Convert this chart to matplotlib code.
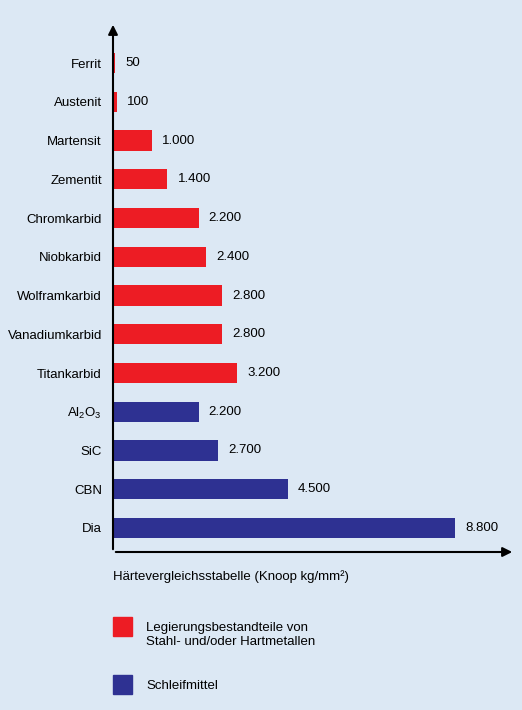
import matplotlib
matplotlib.use("Agg")
import matplotlib.pyplot as plt
from matplotlib.patches import Rectangle

categories = ["Ferrit", "Austenit", "Martensit", "Zementit", "Chromkarbid", "Niobkarbid",
              "Wolframkarbid", "Vanadiumkarbid", "Titankarbid", r"Al$_2$O$_3$", "SiC", "CBN", "Dia"]
values = [50, 100, 1000, 1400, 2200, 2400, 2800, 2800, 3200, 2200, 2700, 4500, 8800]
groups = ["leg"] * 9 + ["schleif"] * 4
value_labels = ["50", "100", "1.000", "1.400", "2.200", "2.400", "2.800", "2.800", "3.200",
                "2.200", "2.700", "4.500", "8.800"]

plt.rcParams['font.family'] = ['Liberation Sans', 'DejaVu Sans']
plt.rcParams['mathtext.fontset'] = 'custom'
plt.rcParams['mathtext.rm'] = 'Liberation Sans'
plt.rcParams['mathtext.it'] = 'Liberation Sans'

RED = "#ED1C24"
BLUE = "#2E3192"
BG = "#DCE8F4"
colors = {"leg": RED, "schleif": BLUE}
FS = 9.5

fig = plt.figure(figsize=(5.22, 7.1), dpi=100, facecolor=BG)
ax = fig.add_axes([113/522, 1-552/710, (515-113)/522, (552-22)/710])
ax.set_facecolor(BG)
ypos = list(range(len(categories)))
ax.barh(ypos, values, height=0.52, color=[colors[g] for g in groups])
for y, v, t in zip(ypos, values, value_labels):
    ax.text(v + 260, y, t, va="center", ha="left", fontsize=FS)
ax.set_xlim(0, 10340)
ax.set_ylim(12.62, -1.06)
ax.set_yticks(ypos)
ax.set_yticklabels(categories, fontsize=FS)
ax.tick_params(axis='y', length=0, pad=8)
ax.set_xticks([])
for s in ax.spines.values():
    s.set_visible(False)
ax.annotate("", xy=(1.0, 0), xytext=(0, 0), xycoords="axes fraction",
            arrowprops=dict(arrowstyle="-|>", color="black", lw=1.5, mutation_scale=14))
ax.annotate("", xy=(0, 1.0), xytext=(0, 0), xycoords="axes fraction",
            arrowprops=dict(arrowstyle="-|>", color="black", lw=1.5, mutation_scale=14))

fig.text(113/522, 1-577/710, "Härtevergleichsstabelle (Knoop kg/mm²)", fontsize=FS, va="center")
fig.patches.append(Rectangle((113/522, 1-636/710), 19/522, 19/710, transform=fig.transFigure,
                             color=RED, figure=fig))
fig.text(146/522, 1-635/710, "Legierungsbestandteile von\nStahl- und/oder Hartmetallen",
         fontsize=FS, va="center", linespacing=1.3)
fig.patches.append(Rectangle((113/522, 1-694/710), 19/522, 19/710, transform=fig.transFigure,
                             color=BLUE, figure=fig))
fig.text(146/522, 1-686/710, "Schleifmittel", fontsize=FS, va="center")

fig.savefig("out.png", dpi=100, facecolor=BG)
